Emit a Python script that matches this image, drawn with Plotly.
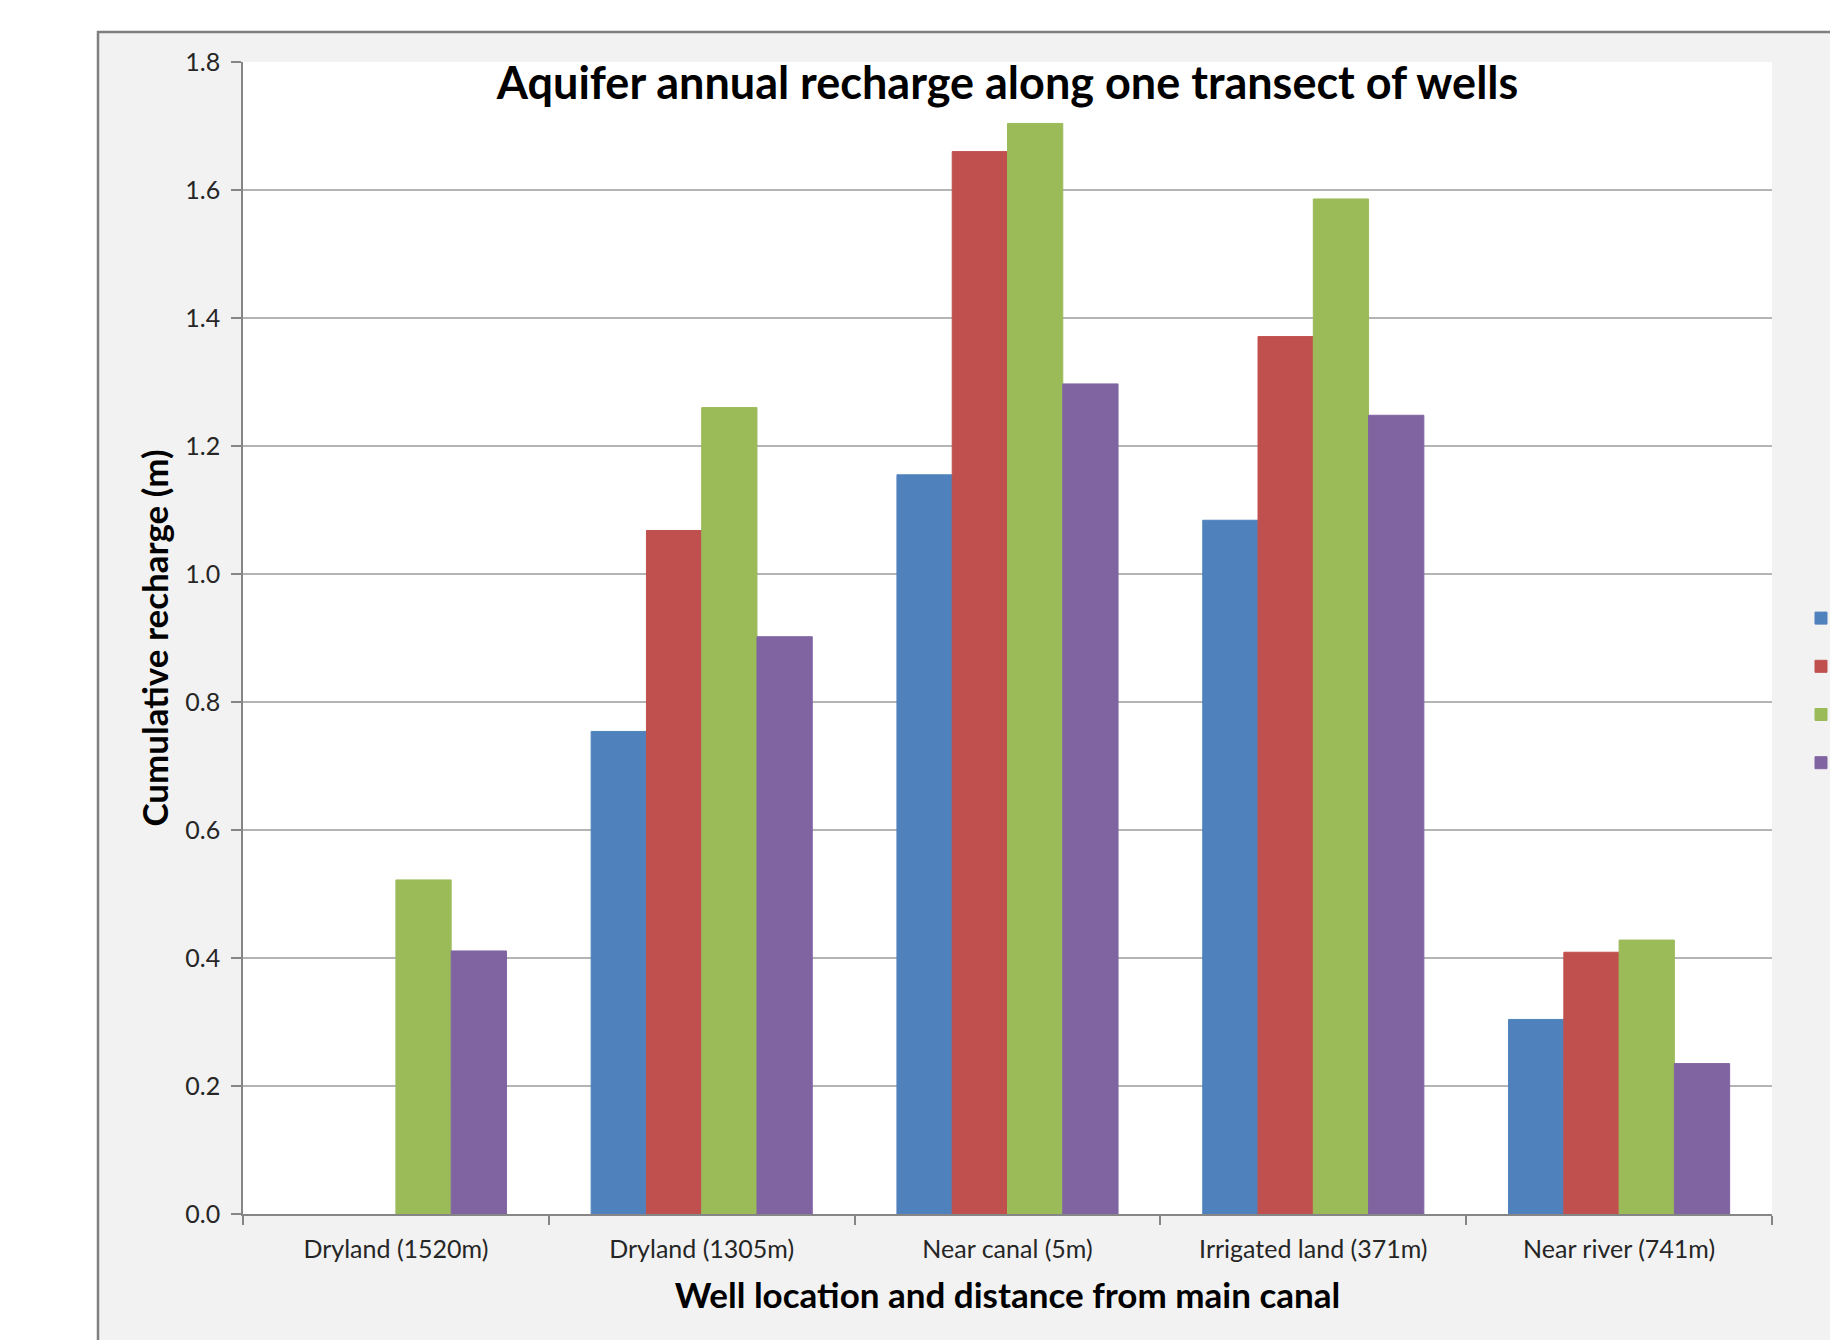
import plotly.graph_objects as go

# Well locations along the transect (x categories)
locations = [
    "Dryland (1520m)",
    "Dryland (1305m)",
    "Near canal (5m)",
    "Irrigated land (371m)",
    "Near river (741m)",
]

# Cumulative recharge (m) for each of the four series
series_names = ["2007", "2008", "2009", "2010"]
recharge_a = [None, 0.754, 1.155, 1.084, 0.304]
recharge_b = [None, 1.068, 1.660, 1.371, 0.409]
recharge_c = [0.522, 1.260, 1.704, 1.586, 0.428]
recharge_d = [0.411, 0.902, 1.297, 1.248, 0.235]
series_values = [recharge_a, recharge_b, recharge_c, recharge_d]
series_colors = ["#4F81BD", "#C0504D", "#9BBB59", "#8064A2"]

y_ticks = [0.0, 0.2, 0.4, 0.6, 0.8, 1.0, 1.2, 1.4, 1.6, 1.8]

W, H = 1830, 1340
PL, PR, PT, PB = 243, 1772, 62, 1214  # plot area in pixels
pw, ph = PR - PL, PB - PT


def px_x(p):
    return (p - PL) / pw


def px_y(p):
    return (PB - p) / ph


FONT = "Lato, 'Open Sans', sans-serif"

fig = go.Figure()
for name, vals, col in zip(series_names, series_values, series_colors):
    fig.add_trace(go.Bar(
        x=locations, y=vals, name=name, legendgroup=name,
        marker=dict(color=col, line=dict(color=col, width=1)),
    ))

fig.update_layout(
    width=W, height=H,
    margin=dict(l=PL, r=W - PR, t=PT, b=H - PB, autoexpand=False),
    paper_bgcolor="white",
    plot_bgcolor="white",
    barmode="group", bargap=0.277, bargroupgap=0,
    font=dict(family=FONT, color="#262626"),
    title=dict(
        text="Aquifer annual recharge along one transect of wells",
        font=dict(family=FONT, size=45, color="black", weight="bold"),
        x=px_x((PL + PR) / 2), xref="paper", xanchor="center",
        y=1 - 83 / H, yref="container", yanchor="middle",
    ),
    legend=dict(
        x=px_x(1801), y=px_y(596), xanchor="left", yanchor="top",
        font=dict(size=24, family=FONT), bgcolor="rgba(0,0,0,0)",
        tracegroupgap=14, traceorder="grouped",
    ),
    showlegend=True,
    xaxis=dict(
        showline=True, linecolor="#868686", linewidth=1.5,
        ticks="outside", tickson="boundaries", ticklen=9, tickcolor="#868686",
        tickwidth=1.5,
        tickfont=dict(size=25, family=FONT, color="#262626"),
        ticklabelstandoff=12,
        title=dict(text="Well location and distance from main canal",
                   font=dict(size=35, family=FONT, color="black", weight="bold"),
                   standoff=22),
        showgrid=False,
    ),
    yaxis=dict(
        range=[0, 1.8], tickvals=y_ticks, tickformat=".1f",
        showline=True, linecolor="#868686", linewidth=1.5,
        ticks="outside", ticklen=10, tickcolor="#868686", tickwidth=1.5,
        tickfont=dict(size=25, family=FONT, color="#262626"),
        ticklabelstandoff=6,
        showgrid=True, gridcolor="#B4B4B4", gridwidth=1.5,
        zeroline=False,
        title=dict(text="Cumulative recharge (m)",
                   font=dict(size=35, family=FONT, color="black", weight="bold"),
                   standoff=6),
    ),
    shapes=[
        # chart frame (light grey panel with a darker border on the left/top)
        dict(type="rect", xref="paper", yref="paper",
             x0=px_x(98), x1=px_x(W + 20), y0=px_y(H + 20), y1=px_y(32),
             fillcolor="#F2F2F2", line=dict(color="#7F7F7F", width=2.5),
             layer="below"),
        # white plotting area
        dict(type="rect", xref="paper", yref="paper",
             x0=0, x1=1, y0=0, y1=1, fillcolor="white",
             line=dict(width=0), layer="below"),
    ],
)

fig.write_html("out.html")
